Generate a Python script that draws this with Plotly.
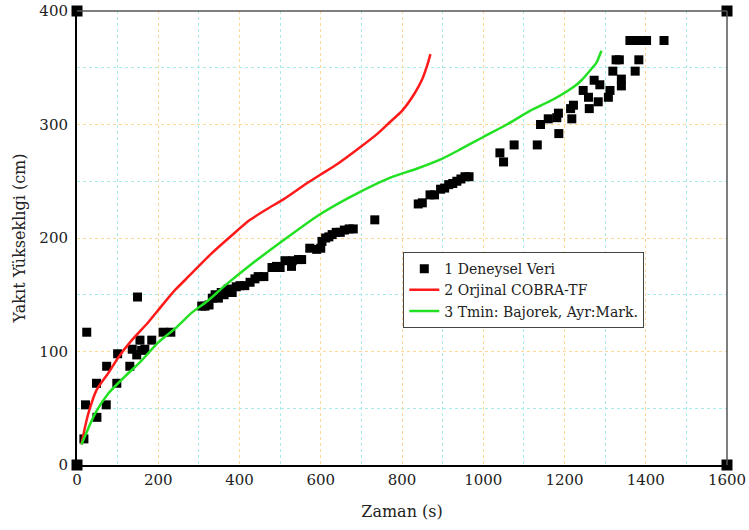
import plotly.graph_objects as go

# Experimental data (1 Deneysel Veri)
exp_x = [17, 24, 21, 49, 48, 72, 73, 98, 100, 130, 149, 136, 147, 155, 159, 167, 184, 212, 231,
         307, 315, 325, 333, 340, 348, 355, 362, 372, 382, 392, 401, 413, 426, 438, 446, 460,
         480, 491, 500, 512, 528, 530, 545, 553, 573, 590, 600, 603, 612, 620, 628, 638, 648, 658, 670, 680,
         733, 840, 850, 869, 880, 895, 905, 915, 925, 935, 945, 955, 965,
         1041, 1050, 1076, 1133, 1141, 1160, 1181, 1185, 1186, 1218, 1222, 1215, 1246, 1259, 1261, 1273,
         1283, 1287, 1308, 1312, 1319, 1327, 1335, 1340, 1340, 1374, 1383, 1361, 1372, 1382, 1392, 1402, 1445]
exp_y = [23, 117, 53, 42, 72, 53, 87, 72, 98, 87, 148, 102, 97, 110, 101, 102, 110, 117, 117,
         140, 140, 141, 147, 150, 147, 152, 150, 155, 152, 157, 158, 158, 161, 164, 166, 166,
         174, 175, 174, 180, 175, 180, 181, 181, 191, 190, 191, 197, 200, 201, 203, 205, 205, 207, 208, 208,
         216, 230, 231, 238, 238, 243, 244, 247, 248, 250, 252, 254, 254,
         275, 267, 282, 282, 300, 305, 306, 310, 292, 305, 317, 314, 330, 324, 314, 339,
         320, 335, 324, 330, 347, 357, 357, 340, 334, 347, 357, 374, 374, 374, 374, 374, 374]

# 2 Orjinal COBRA-TF
red_x = [11, 20, 30, 48, 77, 102, 135, 176, 208, 241, 266, 330, 380, 426, 470, 508, 565, 600, 640, 697,
         740, 770, 800, 832, 850, 862, 870]
red_y = [18, 34, 48, 66, 81, 95, 110, 126, 140, 154, 163, 186, 202, 216, 226, 234, 248, 256, 265, 280,
         292, 302, 312, 328, 340, 352, 362]

# 3 Tmin: Bajorek, Ayr:Mark.
grn_x = [11, 44, 77, 118, 159, 200, 241, 282, 323, 364, 426, 508, 590, 672, 770, 836, 894, 943,
         1000, 1058, 1115, 1172, 1222, 1242, 1271, 1278, 1291]
grn_y = [18, 45, 63, 78, 92, 108, 120, 134, 145, 158, 176, 198, 219, 236, 253, 261, 269, 278,
         289, 300, 312, 322, 333, 339, 351, 354, 365]

corner_x = [0, 0, 1600, 1600]
corner_y = [0, 400, 0, 400]

FONT = "DejaVu Serif"

fig = go.Figure()
fig.add_trace(go.Scatter(x=exp_x, y=exp_y, mode="markers", name="1 Deneysel Veri",
                         marker=dict(symbol="square", size=9, color="black")))
fig.add_trace(go.Scatter(x=red_x, y=red_y, mode="lines", name="2 Orjinal COBRA-TF",
                         line=dict(color="#ff1a1a", width=2.5, shape="spline", smoothing=0.6)))
fig.add_trace(go.Scatter(x=grn_x, y=grn_y, mode="lines", name="3 Tmin: Bajorek, Ayr:Mark.",
                         line=dict(color="#22e022", width=2.5, shape="spline", smoothing=0.6)))
fig.add_trace(go.Scatter(x=corner_x, y=corner_y, mode="markers", showlegend=False,
                         cliponaxis=False, hoverinfo="skip",
                         marker=dict(symbol="square", size=11, color="black")))

axis_common = dict(
    showline=True, linecolor="black", linewidth=2, mirror=False, automargin=False,
    showgrid=True, gridcolor="#ffd79a", griddash="dot", gridwidth=1,
    zeroline=False, ticks="", tickfont=dict(family=FONT, size=15, color="#222"),
)

fig.update_xaxes(range=[0, 1600], dtick=200, tick0=0,
                 minor=dict(dtick=100, showgrid=True, gridcolor="#a8ecec", griddash="dot", gridwidth=1),
                 title=dict(text="Zaman (s)", font=dict(family=FONT, size=16, color="#222"), standoff=18),
                 **axis_common)
fig.update_yaxes(range=[0, 400], dtick=100, tick0=0,
                 minor=dict(dtick=50, showgrid=True, gridcolor="#a8ecec", griddash="dot", gridwidth=1),
                 title=dict(text="Yakıt Yükseklıgi (cm)", font=dict(family=FONT, size=16, color="#222"), standoff=10),
                 ticklabelstandoff=4,
                 **axis_common)

# top and right frame lines (gray)
fig.add_shape(type="line", xref="paper", yref="paper", x0=0, x1=1, y0=1, y1=1,
              line=dict(color="#555", width=1.5), layer="above")
fig.add_shape(type="line", xref="paper", yref="paper", x0=1, x1=1, y0=0, y1=1,
              line=dict(color="#555", width=1.5), layer="above")

fig.update_layout(
    width=749, height=530,
    margin=dict(l=77, r=22, t=11, b=65),
    plot_bgcolor="white", paper_bgcolor="white",
    font=dict(family=FONT, color="#222"),
    legend=dict(x=0.502, y=0.469, xanchor="left", yanchor="top",
                bgcolor="white", bordercolor="#444", borderwidth=1,
                font=dict(family=FONT, size=14, color="#222"),
                tracegroupgap=0, itemwidth=30),
)

fig.write_html("out.html")
